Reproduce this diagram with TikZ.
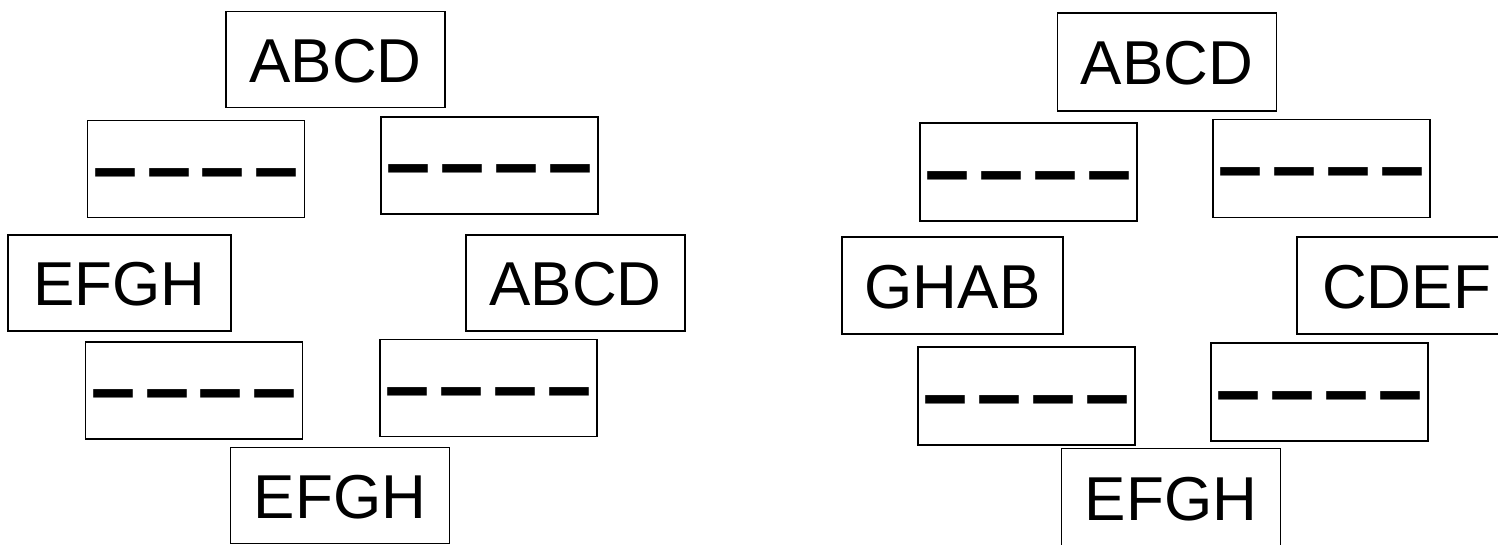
\documentclass[tikz,border=0pt]{standalone}
\usepackage{fontspec}
\setmainfont{Liberation Sans}
\newfontfamily\dashfont{Liberation Sans}[FakeStretch=1.5,Ligatures=ResetAll]
\usepackage{tikz}
\newcommand{\gapdash}{\smash{\raisebox{-32pt}{\dashfont\fontsize{108}{112}\selectfont ----}}}

\begin{document}
\begin{tikzpicture}[x=1pt,y=-1pt,
    word/.style={draw,line width=1.6pt,inner sep=0pt,minimum width=219pt,minimum height=96pt,
        text height=45pt,text depth=0pt,font=\fontsize{62}{70}\selectfont},
    gapbox/.style={word,minimum width=217pt,minimum height=97pt,text height=0pt}]
    \useasboundingbox (0,0) rectangle (1498,544);
    % left ring
    \node[word] (l1) at (335.5,59.5) {ABCD};
    \node[word,minimum width=223pt] (l2) at (119.5,283) {EFGH};
    \node[word] (l3) at (575.5,283) {ABCD};
    \node[word] (l4) at (340,495.5) {EFGH};
    \foreach \n/\x/\y in {ld1/196/169,ld2/489.5/165.5,ld3/194/390.5,ld4/488.5/388}
    \node[gapbox] (\n) at (\x,\y) {\gapdash};
    % right ring
    \node[word,minimum height=98pt] (r1) at (1167,62) {ABCD};
    \node[word,minimum width=221pt,minimum height=97pt] (r2) at (952.5,285.5) {GHAB};
    \node[word,minimum height=97pt] (r3) at (1406.5,285.5) {CDEF};
    \node[word,minimum height=98pt] (r4) at (1171,497.5) {EFGH};
    \foreach \n/\x/\y in {rd1/1028.5/172,rd2/1321.5/168.5,rd3/1026.5/396,rd4/1319.5/392}
    \node[gapbox,minimum height=98pt] (\n) at (\x,\y) {\gapdash};
\end{tikzpicture}
\end{document}
